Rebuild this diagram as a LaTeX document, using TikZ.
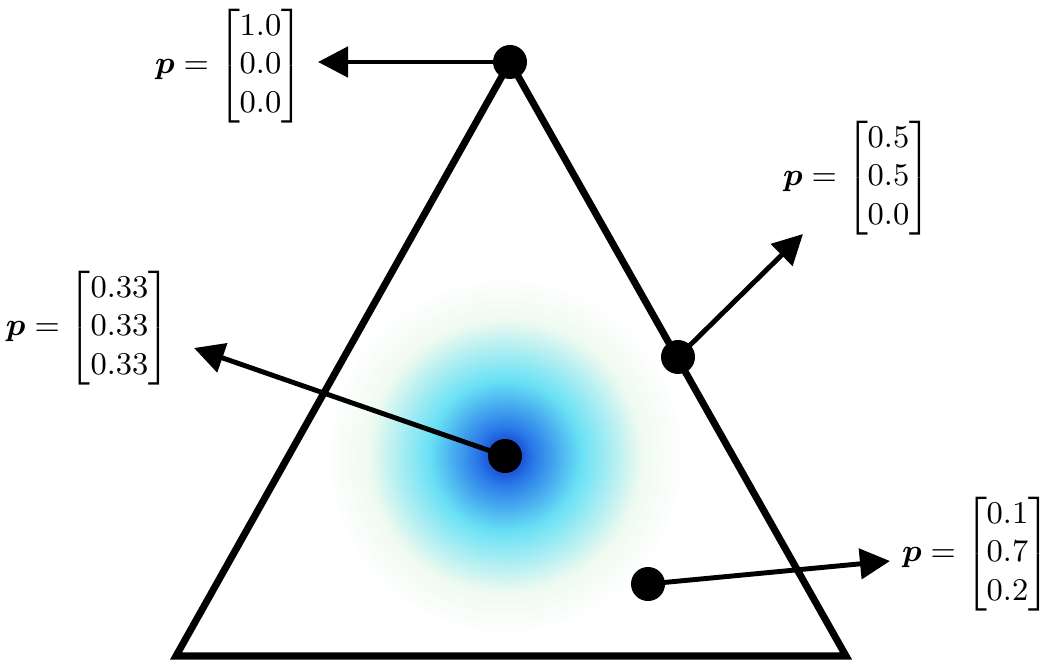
\documentclass[tikz,border=0pt]{standalone}
\usepackage{amsmath}
\usetikzlibrary{arrows.meta}

\definecolor{blobcore}{RGB}{14,32,195}
\definecolor{blobblue}{RGB}{40,120,232}
\definecolor{blobcyan}{RGB}{105,225,245}
\definecolor{blobpale}{RGB}{238,250,240}
\pgfdeclareradialshading{dirblob}{\pgfpoint{0bp}{0bp}}{%
  color(0bp)=(blobcore); color(3.5bp)=(blobblue); color(9.5bp)=(blobcyan);
  color(17bp)=(blobpale); color(22.5bp)=(white); color(25bp)=(white)}

\begin{document}
\begin{tikzpicture}[x=0.01cm,y=-0.01cm,>={Triangle[length=0.3cm,width=0.3cm]},
  simplex/.style={line width=2pt,line join=miter},
  pointer/.style={line width=1.4pt,->},
  lbl/.style={font=\fontsize{9.2}{11}\selectfont,inner sep=0pt}]
  \useasboundingbox (0,0) rectangle (1046,661);

  % corners of the simplex
  \coordinate (top) at (510,62);
  \coordinate (bl) at (176,656);
  \coordinate (br) at (846,656);

  % sample points
  \coordinate (mid) at (505,456);
  \coordinate (edge) at (678,357);
  \coordinate (low) at (648,584);

  % density
  \begin{scope}
    \clip (top) -- (bl) -- (br) -- cycle;
    \shade[shading=dirblob] (mid) circle[radius=200];
  \end{scope}

  \draw[simplex] (top) -- (bl) -- (br) -- cycle;

  % arrow ends
  \coordinate (topend) at (318,62);
  \coordinate (edgeend) at (803,234);
  \coordinate (midend) at (194,348);
  \coordinate (lowend) at (890,561);

  \draw[pointer] (top) -- (topend);
  \draw[pointer] (edge) -- (edgeend);
  \draw[pointer] (mid) -- (midend);
  \draw[pointer] (low) -- (lowend);

  \foreach \q in {top,edge,mid,low}
    \fill[black] (\q) circle[radius=17];

  \node[lbl] (ptop) at (229,66)
    {$\boldsymbol{p}=\begin{bmatrix}1.0\\0.0\\0.0\end{bmatrix}$};
  \node[lbl] (pedge) at (857,178)
    {$\boldsymbol{p}=\begin{bmatrix}0.5\\0.5\\0.0\end{bmatrix}$};
  \node[lbl] (pmid) at (88,328)
    {$\boldsymbol{p}=\begin{bmatrix}0.33\\0.33\\0.33\end{bmatrix}$};
  \node[lbl] (plow) at (976,554)
    {$\boldsymbol{p}=\begin{bmatrix}0.1\\0.7\\0.2\end{bmatrix}$};
\end{tikzpicture}
\end{document}
